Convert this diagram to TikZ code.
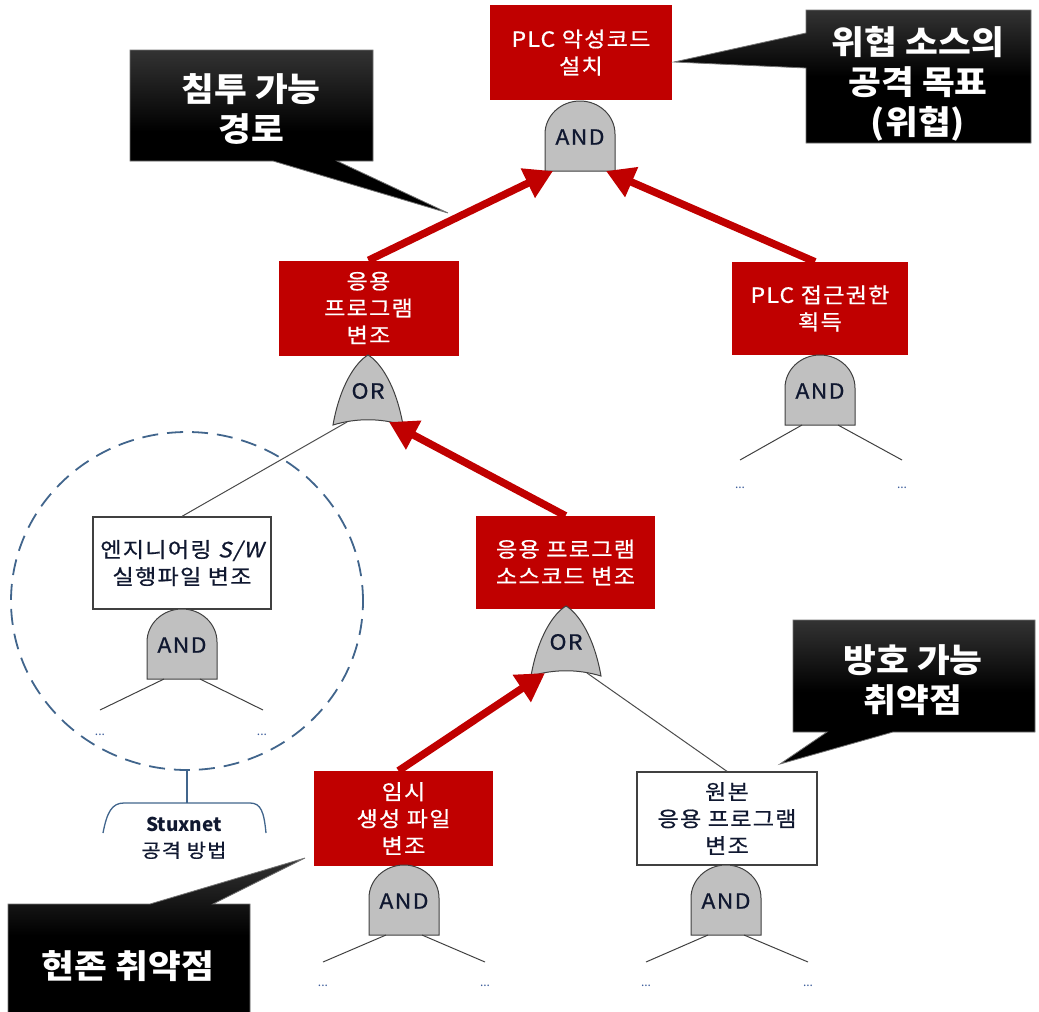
\documentclass[tikz,border=0pt]{standalone}
\usepackage{fontspec}
\newfontfamily\kr{Noto Sans CJK KR}
\newfontfamily\krev[FakeStretch=1.1, LetterSpace=6, FakeBold=0.6]{Noto Sans CJK KR}
\newfontfamily\krsl[FakeStretch=1.1, LetterSpace=6, FakeBold=0.6, FakeSlant=0.2]{Noto Sans CJK KR}
\newfontfamily\krc[FakeStretch=1.08]{Noto Sans CJK KR}
\usetikzlibrary{arrows.meta,shapes.geometric}
\definecolor{evred}{HTML}{C00000}
\definecolor{gatefill}{HTML}{C0C0C0}
\definecolor{dashblue}{HTML}{41658C}
\definecolor{dotblue}{HTML}{3B5C9A}
\definecolor{gtext}{HTML}{101830}
\tikzset{
  evbox/.style={fill=evred, text=white, align=center, inner sep=0pt,
    font=\krev\fontsize{21}{27}\selectfont},
  whbox/.style={fill=white, draw=black!75, line width=1.3pt, text=gtext, align=center,
    inner sep=0pt, font=\krev\fontsize{21}{27}\selectfont},
  gateshape/.style={fill=gatefill, draw=black!75, line width=1pt},
  gatetext/.style={font=\krev\fontsize{21}{22}\selectfont, text=gtext, inner sep=0pt},
  leg/.style={draw=black!75, line width=1pt},
  thinlink/.style={draw=black!70, line width=1pt},
  redarrow/.style={draw=evred, line width=7.5pt, -{Triangle[length=28pt,width=31pt]}},
  callout/.style={top color=black!80, bottom color=black, middle color=black, draw=black!55, line width=0.8pt},
  callouttext/.style={text=white, align=center, inner sep=0pt,
    font=\krc\bfseries\fontsize{33}{40}\selectfont},
  dotsnode/.style={text=dotblue, font=\kr\fontsize{12}{12}\selectfont, inner sep=0pt},
  andgate/.pic={
    \path[gateshape] (-35,0) -- (-35,-37)
      arc[start angle=180, end angle=0, x radius=35pt, y radius=33pt] -- (35,0) -- cycle;
    \node[gatetext] (-t) at (0,-34) {AND};
    \coordinate (-ll) at (-18,0);
    \coordinate (-lr) at (18,0);
    \coordinate (-al) at (-27,0);
    \coordinate (-ar) at (26,0);
  },
  orgate/.pic={
    \path[gateshape] (-35,0) .. controls (-28,-40) and (-12,-63) .. (0,-70)
      .. controls (12,-63) and (28,-40) .. (35,0)
      .. controls (12,-7) and (-12,-7) .. (-35,0) -- cycle;
    \node[gatetext] (-t) at (0,-34) {OR};
    \coordinate (-al) at (-21,-3);
    \coordinate (-ar) at (21,-3);
  }
}
\begin{document}
\begin{tikzpicture}[x=1pt,y=-1pt]
\useasboundingbox (0,0) rectangle (1039,1012);

% ---------- events ----------
\node[evbox, minimum width=182, minimum height=95] (top) at (581,52.5) {PLC 악성코드\\설치};
\node[evbox, minimum width=180, minimum height=95] (app) at (368.5,308) {응용\\프로그램\\변조};
\node[evbox, minimum width=176, minimum height=93] (plc) at (820,308.5) {PLC 접근권한\\획득};
\node[evbox, minimum width=179, minimum height=93] (src) at (565.5,562.5) {응용 프로그램\\소스코드 변조};
\node[whbox, minimum width=178, minimum height=92] (eng) at (182,563) {엔지니어링 {\krsl S/W}\\실행파일 변조};
\node[evbox, minimum width=179, minimum height=95] (tmp) at (403.5,818.5) {임시\\생성 파일\\변조};
\node[whbox, minimum width=180, minimum height=93] (org) at (727,818.5) {원본\\응용 프로그램\\변조};

% ---------- gates ----------
\pic (g1) at (580,171) {andgate};
\pic (g2) at (368,425) {orgate};
\pic (g3) at (820,425) {andgate};
\pic (g4) at (182,679) {andgate};
\pic (g5) at (566,676) {orgate};
\pic (g6) at (404,935) {andgate};
\pic (g7) at (726,935) {andgate};

% ---------- legs and dots ----------
\coordinate (g3-el) at (740,460); \coordinate (g3-er) at (902,460);
\coordinate (g4-el) at (100,710); \coordinate (g4-er) at (263,710);
\coordinate (g6-el) at (323,962); \coordinate (g6-er) at (485,962);
\coordinate (g7-el) at (646,962); \coordinate (g7-er) at (808,962);
\foreach \g in {g3,g4,g6,g7}{
  \draw[leg] (\g-ll) -- (\g-el);
  \draw[leg] (\g-lr) -- (\g-er);
}
\node[dotsnode] (d3l) at (740,488) {...};
\node[dotsnode] (d3r) at (902,488) {...};
\node[dotsnode] (d4l) at (100,735) {...};
\node[dotsnode] (d4r) at (262,735) {...};
\node[dotsnode] (d6l) at (323,986) {...};
\node[dotsnode] (d6r) at (485,986) {...};
\node[dotsnode] (d7l) at (646,986) {...};
\node[dotsnode] (d7r) at (808,986) {...};

% ---------- thin links ----------
\draw[thinlink] (g2-al) -- (eng.north);
\draw[thinlink] (g5-ar) -- (org.north);

% ---------- red attack path ----------
\draw[redarrow] (app.north) -- (g1-al);
\draw[redarrow] ([xshift=-5pt]plc.north) -- (g1-ar);
\draw[redarrow] (src.north) -- (g2-ar);
\draw[redarrow] ([xshift=-5pt]tmp.north) -- (g5-al);

% ---------- Stuxnet group ----------
\node[draw=dashblue, ellipse, line width=1.8pt, dash pattern=on 16pt off 9pt,
      minimum width=352, minimum height=338, inner sep=0pt] (grp) at (187,601) {};
\coordinate (brc) at (187,803);
\draw[dashblue, line width=1.3pt] (grp.south) -- (brc);
\draw[dashblue, line width=1.3pt] (103,833) .. controls (107,812) and (112,803) .. (124,803)
  -- (250,803) .. controls (261,803) and (264,812) .. (266,833);
\node[text=gtext, align=center, inner sep=0pt, font=\krev\fontsize{19}{26}\selectfont] (stux) at (184,838)
  {{\kr\bfseries\fontsize{19}{26}\selectfont Stuxnet}\\공격 방법};

% ---------- callouts ----------
\coordinate (t1) at (674,62);
\draw[callout] (806,10) -- (1031,10) -- (1031,143) -- (806,143) -- (806,68) -- (t1) -- (806,33) -- cycle;
\node[callouttext] (c1) at (918,84) {위협 소스의\\공격 목표\\(위협)};

\coordinate (t2) at (448,213);
\draw[callout] (130,50) -- (373,50) -- (373,161) -- (337,161) -- (t2) -- (273,161) -- (130,161) -- cycle;
\node[callouttext] (c2) at (251,109) {침투 가능\\경로};

\coordinate (t3) at (780,764);
\draw[callout] (793,620) -- (1035,620) -- (1035,732) -- (893,732) -- (t3) -- (827,732) -- (793,732) -- cycle;
\node[callouttext] (c3) at (913,680) {방호 가능\\취약점};

\coordinate (t4) at (305,858);
\draw[callout] (8,904) -- (150,904) -- (t4) -- (213,904) -- (250,904) -- (250,1013) -- (8,1013) -- cycle;
\node[callouttext] (c4) at (128,966) {현존 취약점};
\end{tikzpicture}
\end{document}
